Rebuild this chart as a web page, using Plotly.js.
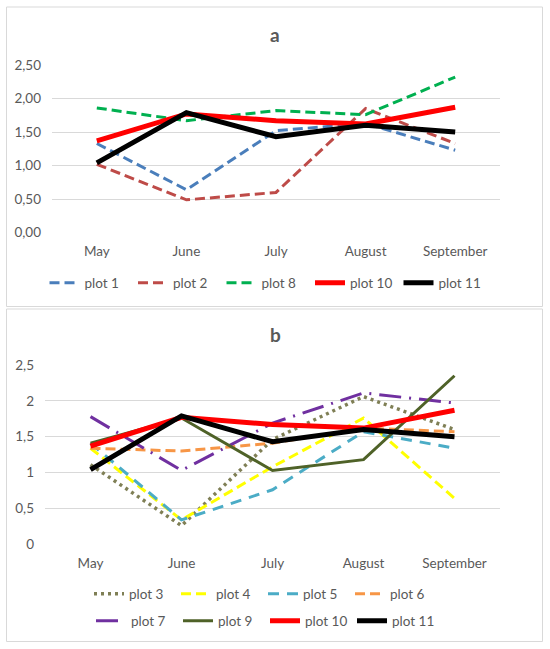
<!DOCTYPE html>
<html>
<head>
<meta charset="utf-8">
<script src="https://cdn.plot.ly/plotly-3.0.1.min.js"></script>
<style>html,body{margin:0;padding:0;background:#fff;}#chart{width:550px;height:649px;}</style>
</head>
<body>
<div id="chart"></div>
<script>
var months = ["May", "June", "July", "August", "September"];

// Panel a
var plot1  = [1.33, 0.64, 1.52, 1.63, 1.23];
var plot2  = [1.02, 0.49, 0.60, 1.85, 1.33];
var plot8  = [1.86, 1.67, 1.82, 1.76, 2.32];
var plot10 = [1.37, 1.77, 1.67, 1.62, 1.87];
var plot11 = [1.04, 1.79, 1.43, 1.60, 1.50];

// Panel b
var plot3  = [1.11, 0.26, 1.46, 2.06, 1.60];
var plot4  = [1.34, 0.34, 1.08, 1.76, 0.64];
var plot5  = [1.41, 0.34, 0.76, 1.57, 1.34];
var plot6  = [1.34, 1.30, 1.41, 1.62, 1.57];
var plot7  = [1.78, 1.03, 1.69, 2.11, 1.97];
var plot9  = [1.41, 1.76, 1.03, 1.18, 2.35];

var yTicksA = [0, 0.5, 1, 1.5, 2, 2.5];
var yTicksB = [0, 0.5, 1, 1.5, 2, 2.5];

var W = 550, H = 649;
function px(x) { return x / W; }
function py(y) { return 1 - y / H; }

function tr(name, y, color, width, dash, xa, ya, legend) {
  return {
    type: "scatter", mode: "lines", name: name, x: months, y: y,
    line: {color: color, width: width, dash: dash, shape: "linear"},
    xaxis: xa, yaxis: ya, legend: legend, hoverinfo: "skip"
  };
}

var data = [
  tr("plot 1", plot1, "#4a7ebb", 3, "10px,5px", "x", "y", "legend"),
  tr("plot 2", plot2, "#be4b48", 3, "10px,5px", "x", "y", "legend"),
  tr("plot 8", plot8, "#00b050", 3, "10px,5px", "x", "y", "legend"),
  tr("plot 10", plot10, "#ff0000", 5, "solid", "x", "y", "legend"),
  tr("plot 11", plot11, "#000000", 5, "solid", "x", "y", "legend"),

  tr("plot 3", plot3, "#7f7f55", 3.5, "3px,4px", "x2", "y2", "legend2"),
  tr("plot 4", plot4, "#ffff00", 3, "10px,5px", "x2", "y2", "legend2"),
  tr("plot 5", plot5, "#4bacc6", 3, "11px,8px", "x2", "y2", "legend2"),
  tr("plot 6", plot6, "#f79646", 3, "10px,5px", "x2", "y2", "legend2"),
  tr("plot 7", plot7, "#7030a0", 3, "22px,8px,2px,8px", "x2", "y2", "legend3"),
  tr("plot 9", plot9, "#4f6228", 3, "solid", "x2", "y2", "legend3"),
  tr("plot 10", plot10, "#ff0000", 5, "solid", "x2", "y2", "legend3"),
  tr("plot 11", plot11, "#000000", 5, "solid", "x2", "y2", "legend3")
];

var tickFont = {family: "Lato, 'Open Sans', sans-serif", size: 13.5, color: "#595959"};
var legFont = {family: "Lato, 'Open Sans', sans-serif", size: 13.5, color: "#595959"};

function xaxis(d0, d1, anchor) {
  return {domain: [d0, d1], anchor: anchor, type: "category", range: [-0.5, 4.5],
    showgrid: false, zeroline: false, showline: false, ticks: "", tickfont: tickFont,
    fixedrange: true, ticklabelstandoff: 9};
}
function yaxis(d0, d1, anchor, ticks, fmt) {
  return {domain: [d0, d1], anchor: anchor, range: [0, 2.5], tickmode: "array",
    tickvals: ticks, tickformat: fmt, showgrid: true, gridcolor: "#d9d9d9", gridwidth: 1,
    zeroline: false, showline: false, ticks: "", tickfont: tickFont, fixedrange: true,
    ticklabelstandoff: 10};
}

var legendBase = {orientation: "h", xanchor: "center", yanchor: "middle",
  font: legFont, bgcolor: "rgba(0,0,0,0)", borderwidth: 0, itemclick: false,
  itemdoubleclick: false, tracegroupgap: 0, entrywidthmode: "pixels", entrywidth: 43.5};

var layout = {
  width: W, height: H,
  margin: {l: 0, r: 0, t: 0, b: 0},
  paper_bgcolor: "#ffffff", plot_bgcolor: "#ffffff",
  separators: ",.",
  showlegend: true,
  xaxis: xaxis(px(52), px(500), "y"),
  yaxis: yaxis(py(232.7), py(65), "x", yTicksA, ".2f"),
  xaxis2: xaxis(px(45), px(500), "y2"),
  yaxis2: yaxis(py(544.3), py(365), "x2", yTicksB, ""),
  legend: Object.assign({}, legendBase, {x: px(266), y: py(283)}),
  legend2: Object.assign({}, legendBase, {x: px(263), y: py(594), entrywidth: 42}),
  legend3: Object.assign({}, legendBase, {x: px(265), y: py(621), entrywidth: 42}),
  annotations: [
    {text: "<b>a</b>", xref: "paper", yref: "paper", x: px(275), y: py(34),
     xanchor: "center", yanchor: "middle", showarrow: false,
     font: {family: "Lato, 'Open Sans', sans-serif", size: 19, color: "#595959"}},
    {text: "<b>b</b>", xref: "paper", yref: "paper", x: px(275), y: py(334),
     xanchor: "center", yanchor: "middle", showarrow: false,
     font: {family: "Lato, 'Open Sans', sans-serif", size: 19, color: "#595959"}}
  ],
  shapes: [
    {type: "rect", xref: "paper", yref: "paper", x0: px(6.5), x1: px(542.5), y0: py(306.5), y1: py(7),
     line: {color: "#d9d9d9", width: 1}, fillcolor: "rgba(0,0,0,0)"},
    {type: "rect", xref: "paper", yref: "paper", x0: px(6.5), x1: px(542.5), y0: py(641.5), y1: py(309),
     line: {color: "#d9d9d9", width: 1}, fillcolor: "rgba(0,0,0,0)"}
  ]
};

Plotly.newPlot("chart", data, layout, {displayModeBar: false, staticPlot: true});
</script>
</body>
</html>
